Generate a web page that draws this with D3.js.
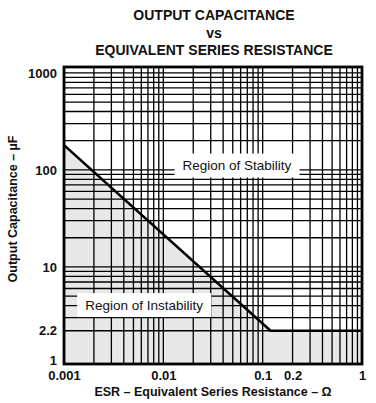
<!DOCTYPE html>
<html>
<head>
<meta charset="utf-8">
<script src="https://cdn.jsdelivr.net/npm/d3@7"></script>
<style>
  body { margin: 0; background: #fff; }
  text { font-family: "Liberation Sans", Arial, sans-serif; fill: #111; }
</style>
</head>
<body>
<div id="chart"></div>
<script>
var w = 376
var h = 403

// axis ticks
var esrTicks = [0.001, 0.01, 0.1, 0.2, 1];
var capTicks = [1, 2.2, 10, 100, 1000];

// stability boundary (ESR in ohm, capacitance in uF)
var boundaryEsr = [0.001, 0.12, 1];
var boundaryCap = [180, 2.2, 2.2];

// region labels
var regionNames = ["Region of Stability", "Region of Instability"];
var regionEsr = [0.055, 0.0064];
var regionCap = [111, 4.05];

var svg = d3.select("#chart").append("svg")
    .attr("width", w)
    .attr("height", h);

var x = d3.scaleLog().domain([0.001, 1]).range([64, 362]);
var y = d3.scaleLog().domain([1, 1150]).range([364, 67]);

var x0 = x.range()[0], x1 = x.range()[1];
var yBot = y.range()[0], yTop = y.range()[1];

// title
var title = ["OUTPUT CAPACITANCE", "vs", "EQUIVALENT SERIES RESISTANCE"];
svg.selectAll("text.title").data(title).enter()
  .append("text")
    .attr("class", "title")
    .attr("x", (x0 + x1) / 2 + 1)
    .attr("y", function(d, i) { return 20 + i * 17.5; })
    .attr("text-anchor", "middle")
    .style("font-size", "14px")
    .style("font-weight", "bold")
    .text(function(d) { return d; });

// shaded region of instability
var boundary = boundaryEsr.map(function(d, i) { return [d, boundaryCap[i]]; });

svg.append("path")
    .datum(boundary)
    .attr("fill", "#e8e8e8")
    .attr("d", d3.area()
        .x(function(d) { return x(d[0]); })
        .y0(yBot)
        .y1(function(d) { return y(d[1]); }));

// grid
var xGrid = x.ticks();
var yGrid = y.ticks().filter(function(d) { return d !== 2; }).concat([2.2]);

svg.selectAll("line.vgrid").data(xGrid).enter()
  .append("line")
    .attr("class", "vgrid")
    .attr("x1", function(d) { return x(d); })
    .attr("x2", function(d) { return x(d); })
    .attr("y1", yTop)
    .attr("y2", yBot)
    .attr("stroke", "#000")
    .attr("stroke-width", 1.3);

svg.selectAll("line.hgrid").data(yGrid).enter()
  .append("line")
    .attr("class", "hgrid")
    .attr("x1", x0)
    .attr("x2", x1)
    .attr("y1", function(d) { return y(d); })
    .attr("y2", function(d) { return y(d); })
    .attr("stroke", "#000")
    .attr("stroke-width", 1.3);

// boundary line
svg.append("path")
    .datum(boundary)
    .attr("fill", "none")
    .attr("stroke", "#000")
    .attr("stroke-width", 2.6)
    .attr("d", d3.line()
        .x(function(d) { return x(d[0]); })
        .y(function(d) { return y(d[1]); }));

// region labels with white boxes
var lab = svg.selectAll("g.region").data(regionNames).enter()
  .append("g")
    .attr("class", "region")
    .attr("transform", function(d, i) {
      return "translate(" + x(regionEsr[i]) + "," + y(regionCap[i]) + ")"; });

lab.append("rect")
    .attr("fill", "#fff");

lab.append("text")
    .attr("text-anchor", "middle")
    .attr("dy", "0.35em")
    .style("font-size", "13.5px")
    .text(function(d) { return d; });

lab.each(function() {
  var g = d3.select(this);
  var bb = g.select("text").node().getBBox();
  g.select("rect")
    .attr("x", bb.x - 8)
    .attr("y", -12)
    .attr("width", bb.width + 16)
    .attr("height", 24);
});

// frame
svg.append("rect")
    .attr("x", x0)
    .attr("y", yTop)
    .attr("width", x1 - x0)
    .attr("height", yBot - yTop)
    .attr("fill", "none")
    .attr("stroke", "#000")
    .attr("stroke-width", 2.8);

// axes
var xAxis = svg.append("g")
    .attr("transform", "translate(0," + (yBot + 4) + ")")
    .call(d3.axisBottom(x).tickValues(esrTicks).tickSize(0)
        .tickFormat(function(d) { return String(d); }));

var yAxis = svg.append("g")
    .attr("transform", "translate(" + (x0 - 4) + ",0)")
    .call(d3.axisLeft(y).tickValues(capTicks).tickSize(0)
        .tickFormat(function(d) { return String(d); }));

[xAxis, yAxis].forEach(function(a) {
  a.select(".domain").remove();
  a.selectAll("text")
    .style("font-family", "'Liberation Sans', Arial, sans-serif")
    .style("font-size", "13px")
    .style("font-weight", "bold")
    .style("fill", "#111");
});

// lift the bottom "1" so it clears the x labels
yAxis.selectAll(".tick text")
    .filter(function(d) { return d === 1; })
    .attr("dy", "0.05em");

// axis titles
svg.append("text")
    .attr("x", (x0 + x1) / 2)
    .attr("y", 396)
    .attr("text-anchor", "middle")
    .style("font-size", "12.5px")
    .style("font-weight", "bold")
    .text("ESR \u2013 Equivalent Series Resistance \u2013 \u03A9");

svg.append("text")
    .attr("transform", "translate(17," + 209 + ") rotate(-90)")
    .attr("text-anchor", "middle")
    .style("font-size", "12.5px")
    .style("font-weight", "bold")
    .text("Output Capacitance \u2013 \u00B5F");
</script>
</body>
</html>
